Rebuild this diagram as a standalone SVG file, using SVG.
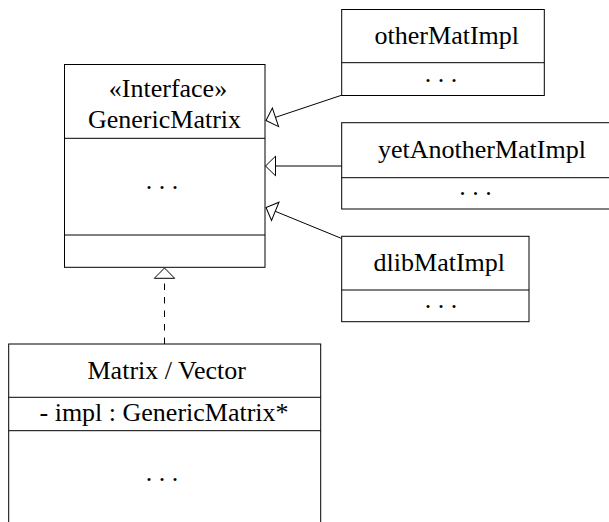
<svg xmlns="http://www.w3.org/2000/svg" width="609" height="522" viewBox="0 0 609 522">
<style>
.box{fill:#fff;stroke:#000;stroke-width:1}
.ln{fill:none;stroke:#000;stroke-width:1}
text{fill:#000;font-size:26px}
</style>
<defs>
<marker id="tri" markerUnits="userSpaceOnUse" viewBox="-1 -11 12 22" refX="10" refY="0" markerWidth="12" markerHeight="22" orient="auto">
<path d="M10,0 L0,-9.8 L0,9.8 Z" fill="#fff" stroke="#000" stroke-width="1"/>
</marker>
</defs>
<rect width="609" height="522" fill="#fff"/>
<g id="connectors">
<path class="ln" d="M341.7,95.2 L266,120.5" marker-end="url(#tri)"/>
<path class="ln" d="M341.7,166 L265.5,166" marker-end="url(#tri)"/>
<path class="ln" d="M341.7,238.5 L266,207.5" marker-end="url(#tri)"/>
<path class="ln" d="M164.5,344 L164.5,278.3" stroke-dasharray="6.5,7"/>
<path d="M164.5,268 L154.3,278.3 L174.7,278.3 Z" fill="#fff" stroke="#000" stroke-width="1"/>
</g>
<g id="GenericMatrix">
<rect class="box" x="64.5" y="64.5" width="200.5" height="202.8"/>
<path class="ln" d="M64.5,138.3 H265 M64.5,235 H265"/>
<text font-family="Liberation Serif" x="108.8" y="96.7">«Interface»</text>
<text font-family="Liberation Serif" x="88" y="128">GenericMatrix</text>
<text font-family="Liberation Serif" x="145.7" y="189">. . .</text>
</g>
<g id="otherMatImpl">
<rect class="box" x="341.7" y="9.5" width="202.6" height="86"/>
<path class="ln" d="M341.7,62.7 H544.3"/>
<text font-family="Liberation Serif" x="374.6" y="44.3">otherMatImpl</text>
<text font-family="Liberation Serif" x="424.7" y="81.5">. . .</text>
</g>
<g id="yetAnotherMatImpl">
<rect class="box" x="341.7" y="122.7" width="280" height="86.3"/>
<path class="ln" d="M341.7,177.7 H612"/>
<text font-family="Liberation Serif" x="378" y="157.7">yetAnotherMatImpl</text>
<text font-family="Liberation Serif" x="459.2" y="195">. . .</text>
</g>
<g id="dlibMatImpl">
<rect class="box" x="341.7" y="236.3" width="187.3" height="85.4"/>
<path class="ln" d="M341.7,290 H529"/>
<text font-family="Liberation Serif" x="373.6" y="271.3">dlibMatImpl</text>
<text font-family="Liberation Serif" x="424.7" y="308">. . .</text>
</g>
<g id="MatrixVector">
<rect class="box" x="8.7" y="344" width="312" height="200"/>
<path class="ln" d="M8.7,397.3 H320.7 M8.7,430.7 H320.7"/>
<text font-family="Liberation Serif" x="87.5" y="379">Matrix / Vector</text>
<text font-family="Liberation Serif" x="39.5" y="421">- impl : GenericMatrix*</text>
<text font-family="Liberation Serif" x="145.7" y="481">. . .</text>
</g>
</svg>
